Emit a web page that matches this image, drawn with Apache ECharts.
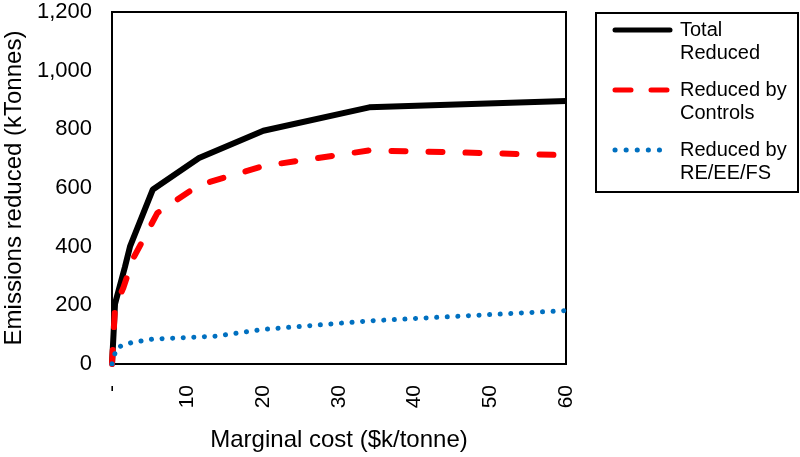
<!DOCTYPE html>
<html><head><meta charset="utf-8">
<script src="https://cdn.jsdelivr.net/npm/echarts@6/dist/echarts.min.js"></script>
<style>html,body{margin:0;padding:0;background:#fff}#c{width:800px;height:457px}</style>
</head><body><div id="c"></div>
<script>
const totalX = [0, 0.2, 0.4, 1.7, 2.4, 5.4, 11.5, 20, 34, 60];
const totalY = [0, 100, 205, 330, 402, 595, 702, 795, 875, 897];
const ctrlX = [0, 0.4, 1.5, 2.8, 6, 11.5, 20, 34, 40, 60];
const ctrlY = [0, 195, 260, 360, 515, 610, 675, 728, 725, 712];
const reX = [0, 0.6, 2.6, 5.4, 13.8, 20, 34, 60];
const reY = [0, 56, 73, 85, 95, 118, 147, 182];
const seriesNames = [['Total', 'Reduced'], ['Reduced by', 'Controls'], ['Reduced by', 'RE/EE/FS']];
const yTicks = [0, 200, 400, 600, 800, 1000, 1200];

const zip = (xs, ys) => xs.map((x, i) => [x, ys[i]]);
const font = 'Liberation Sans, Arial, sans-serif';
const styles = [
  { color: '#000000', width: 6, type: 'solid', cap: 'butt', legendDash: null },
  { color: '#ff0000', width: 6, type: [14, 23], cap: 'round', legendDash: [16, 20] },
  { color: '#0070c0', width: 5, type: [0.1, 10.5], cap: 'round', legendDash: [0.1, 11] }
];

// legend drawn as graphic so the icon sits on the first text line, like the reference
const legendChildren = [{ type: 'rect', shape: { x: 596, y: 13, width: 202, height: 179 },
  style: { fill: '#fff', stroke: '#000', lineWidth: 2 } }];
seriesNames.forEach((lines, i) => {
  const cy = 30 + i * 60;
  const s = styles[i];
  legendChildren.push({ type: 'line', shape: { x1: 615, y1: cy, x2: 670, y2: cy },
    style: { stroke: s.color, lineWidth: s.width - (i === 2 ? 0 : 1), lineDash: s.legendDash, lineCap: 'round' } });
  lines.forEach((t, j) => legendChildren.push({ type: 'text', x: 680, y: cy + j * 23.5,
    style: { text: t, font: '20px ' + font, fill: '#000', verticalAlign: 'middle', align: 'left' } }));
});

const chart = echarts.init(document.getElementById('c'));
chart.setOption({
  animation: false,
  grid: { left: 112, top: 12, width: 454, height: 352, show: true, borderColor: '#000', borderWidth: 2,
    containLabel: false, outerBoundsMode: 'none' },
  graphic: legendChildren,
  xAxis: {
    type: 'value', min: 0, max: 60, interval: 10,
    name: 'Marginal cost ($k/tonne)', nameLocation: 'middle', nameGap: 64,
    nameTextStyle: { fontFamily: font, fontSize: 24, color: '#000' },
    axisLine: { lineStyle: { color: '#000', width: 2 } },
    axisTick: { show: false }, splitLine: { show: false },
    axisLabel: { rotate: 90, margin: 21, fontFamily: font, fontSize: 21, color: '#000',
      formatter: v => v === 0 ? '-' : String(v) }
  },
  yAxis: {
    type: 'value', min: 0, max: 1200, interval: 200,
    name: 'Emissions reduced (kTonnes)', nameLocation: 'middle', nameGap: 78,
    nameTextStyle: { fontFamily: font, fontSize: 24, color: '#000' },
    axisLine: { show: true, lineStyle: { color: '#000', width: 2 } },
    axisTick: { show: false }, splitLine: { show: false },
    axisLabel: { margin: 20, fontFamily: font, fontSize: 22, color: '#000',
      formatter: v => v.toLocaleString('en-US') }
  },
  series: [
    { name: 'Total Reduced', type: 'line', data: zip(totalX, totalY), symbol: 'none',
      lineStyle: { color: styles[0].color, width: styles[0].width } },
    { name: 'Reduced by Controls', type: 'line', data: zip(ctrlX, ctrlY), symbol: 'none',
      lineStyle: { color: styles[1].color, width: styles[1].width, type: styles[1].type, cap: 'round' } },
    { name: 'Reduced by RE/EE/FS', type: 'line', data: zip(reX, reY), symbol: 'none',
      lineStyle: { color: styles[2].color, width: styles[2].width, type: styles[2].type, cap: 'round' } }
  ]
});
</script></body></html>
